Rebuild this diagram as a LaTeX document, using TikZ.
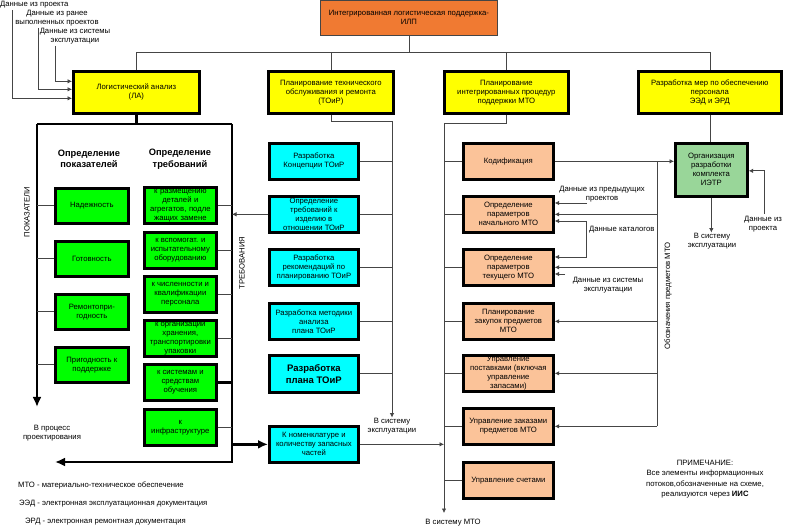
\documentclass[tikz,border=0pt]{standalone}
\usepackage{fontspec}
\setmainfont{Liberation Sans}
\usetikzlibrary{arrows.meta}
\definecolor{ilporange}{HTML}{F07A32}
\definecolor{lemon}{HTML}{FFFF00}
\definecolor{lime}{HTML}{00FF00}
\definecolor{aqua}{HTML}{00FFFF}
\definecolor{peach}{HTML}{FBC399}
\definecolor{mint}{HTML}{99D699}
\definecolor{wiregray}{HTML}{454545}

\begin{document}
\begin{tikzpicture}[x=1pt, y=-1pt,
  box/.style={draw=black, line width=2.7pt, align=center, anchor=north west,
    inner sep=1pt, font=\fontsize{7.7}{9}\selectfont},
  wire/.style={draw=wiregray, line width=0.7pt},
  feed/.style={wire, -{Latex[length=4.5pt,width=4.5pt]}},
  heavy/.style={line width=2.7pt},
  note/.style={align=center, inner sep=0pt, font=\fontsize{7.7}{9.6}\selectfont},
  head/.style={align=center, font=\bfseries\fontsize{9.3}{11.5}\selectfont}]

\useasboundingbox (0,0) rectangle (785,529);
\fill[white] (0,0) rectangle (785,529);

% Top: ILP and the four branches
\node[box, line width=0.7pt, draw=wiregray, fill=ilporange, minimum width=177pt, minimum height=35pt] (ilp) at (320,0) {Интегрированная логистическая поддержка-\\ИЛП};
\node[box, fill=lemon, minimum width=126pt, minimum height=42pt] (la) at (72,70) {Логистический анализ\\(ЛА)};
\node[box, fill=lemon, minimum width=125pt, minimum height=42pt] (toir) at (267,70) {Планирование технического\\обслуживания и ремонта\\(ТОиР)};
\node[box, fill=lemon, minimum width=124pt, minimum height=42pt] (mto) at (443,70) {Планирование\\интегрированных процедур\\поддержки МТО};
\node[box, fill=lemon, minimum width=143pt, minimum height=42pt] (pers) at (637,70) {Разработка мер по обеспечению\\персонала\\ЭЭД и ЭРД};
\coordinate (hub) at (408,52);
\draw[wire] (ilp.south) -- (ilp.south |- hub);
\draw[wire] (la.north |- hub) -- (pers.north |- hub);
\foreach \b in {la,toir,mto,pers}
  \draw[wire] (\b.north) -- (\b.north |- hub);

% Source data for LA
\node[note, anchor=west] (src1) at (0,5) {Данные из проекта};
\node[note] (src2) at (57,18) {Данные из ранее\\выполненных проектов};
\node[note] (src3) at (75,36) {Данные из системы\\эксплуатации};
\coordinate (s1) at (12,10);
\coordinate (s2) at (38,28);
\coordinate (s3) at (55,46);
\draw[feed] (s1) |- ([yshift=-6pt]la.west);
\draw[feed] (s2) |- ([yshift=3pt]la.west);
\draw[feed] (s3) |- ([yshift=11pt]la.west);

% LA frame
\coordinate (fTL) at (37,124);
\coordinate (fTR) at (232,124);
\coordinate (fBL) at (37,407);
\coordinate (fBR) at (232,462);
\draw[heavy] (la.south) -- (la.south |- fTL);
\draw[heavy] (fTL) -- (fTR);
\draw[heavy, -{Latex[length=10pt,width=9pt]}] (fTL) -- (fBL);
\draw[heavy, -{Latex[length=10pt,width=9pt]}] (fTR) -- (fBR) -- (55,462);
\node[head] (hpok) at (89,159) {Определение\\показателей};
\node[head] (htreb) at (180,159) {Определение\\требований};
\node[note, rotate=90] (lpok) at (27,212) {ПОКАЗАТЕЛИ};
\node[note, rotate=90] (ltreb) at (242,263) {ТРЕБОВАНИЯ};
\node[note] (proj) at (52,433) {В процесс\\проектирования};

% Indicators
\node[box, fill=lime, minimum width=73pt, minimum height=35pt] (nad) at (54,187) {Надежность};
\node[box, fill=lime, minimum width=73pt, minimum height=35pt] (got) at (54,240) {Готовность};
\node[box, fill=lime, minimum width=73pt, minimum height=35pt] (rem) at (54,293) {Ремонтопри-\\годность};
\node[box, fill=lime, minimum width=73pt, minimum height=35pt] (prig) at (54,346) {Пригодность к\\поддержке};
\foreach \b in {nad,got,rem,prig}
  \draw[wire] (\b.west) -- (fTL |- \b.west);

% Requirements
\node[box, fill=lime, minimum width=72pt, minimum height=36pt, text width=70pt] (r1) at (143,186) {к размещению\\деталей и\\агрегатов, подле\\жащих замене};
\node[box, fill=lime, minimum width=72pt, minimum height=36pt] (r2) at (143,231) {к вспомогат. и\\испытательному\\оборудованию};
\node[box, fill=lime, minimum width=72pt, minimum height=36pt] (r3) at (143,275) {к численности и\\квалификации\\персонала};
\node[box, fill=lime, minimum width=72pt, minimum height=36pt] (r4) at (143,319) {к организации\\хранения,\\транспортировки\\упаковки};
\node[box, fill=lime, minimum width=72pt, minimum height=36pt] (r5) at (143,363) {к системам и\\средствам\\обучения};
\node[box, fill=lime, minimum width=72pt, minimum height=36pt] (r6) at (143,408) {к\\инфраструктуре};
\foreach \b in {r1,r2,r3,r4,r6}
  \draw[wire] (\b.east) -- (fTR |- \b.east);
\draw[heavy] (r5.east) -- (fTR |- r5.east);

% TOiR column
\node[box, fill=aqua, minimum width=89pt, minimum height=36pt] (c1) at (268,142) {Разработка\\Концепции ТОиР};
\node[box, fill=aqua, minimum width=89pt, minimum height=36pt] (c2) at (268,195) {Определение\\требований к\\изделию в\\отношении ТОиР};
\node[box, fill=aqua, minimum width=89pt, minimum height=36pt] (c3) at (268,248) {Разработка\\рекомендаций по\\планированию ТОиР};
\node[box, fill=aqua, minimum width=89pt, minimum height=36pt] (c4) at (268,302) {Разработка методики\\анализа\\плана ТОиР};
\node[box, fill=aqua, minimum width=89pt, minimum height=37pt, font=\bfseries\fontsize{9.5}{11.5}\selectfont] (c5) at (268,354) {Разработка\\плана ТОиР};
\node[box, fill=aqua, minimum width=89pt, minimum height=36pt] (spare) at (268,425) {К номенклатуре и\\количеству запасных\\частей};
\coordinate (tbus) at (392,121);
\node[note] (tout) at (392,426) {В систему\\эксплуатации};
\draw[wire] (toir.south) |- (tbus);
\draw[feed] (tbus) -- (tbus |- tout.north);
\foreach \b in {c1,c2,c3,c4,c5}
  \draw[wire] (\b.east) -- (\b.east -| tbus);
\draw[feed] (c2.west) -- (fTR |- c2.west);
\draw[heavy, -{Latex[length=10pt,width=9pt]}] (fTR |- spare.west) -- (spare.west);

% MTO column
\node[box, fill=peach, minimum width=90pt, minimum height=36pt] (m1) at (462,142) {Кодификация};
\node[box, fill=peach, minimum width=90pt, minimum height=36pt] (m2) at (462,195) {Определение\\параметров\\начального МТО};
\node[box, fill=peach, minimum width=90pt, minimum height=36pt] (m3) at (462,248) {Определение\\параметров\\текущего МТО};
\node[box, fill=peach, minimum width=90pt, minimum height=36pt] (m4) at (462,302) {Планирование\\закупок предметов\\МТО};
\node[box, fill=peach, minimum width=90pt, minimum height=36pt] (m5) at (462,354) {Управление\\поставками (включая\\управление\\запасами)};
\node[box, fill=peach, minimum width=90pt, minimum height=36pt] (m6) at (462,407) {Управление заказами\\предметов МТО};
\node[box, fill=peach, minimum width=90pt, minimum height=36pt] (m7) at (462,461) {Управление счетами};
\coordinate (mbus) at (444,123);
\node[note] (mout) at (453,523) {В систему МТО};
\draw[wire] (mto.south) |- (mbus);
\draw[feed] (mbus) -- (mbus |- 0,513);
\foreach \b in {m1,m2,m3,m4,m5,m6,m7}
  \draw[wire] (\b.west) -- (\b.west -| mbus);
\draw[feed] (spare.east) -- (spare.east -| mbus);

% Item designations bus
\coordinate (obus) at (657,0);
\draw[wire] (m1.east -| obus) -- (m6.east -| obus);
\foreach \b in {m2,m3,m4,m5,m6}
  \draw[feed] (\b.east -| obus) -- (\b.east);
\node[note, rotate=90] (lobus) at (668,296) {Обозначения предметов МТО};

% Extra data for MTO
\node[note] (tprev) at (602,194) {Данные из  предыдущих\\проектов};
\coordinate (prev) at (587,203);
\draw[feed] (prev) -- (prev -| m2.east);
\coordinate (cat) at (586,221);
\coordinate (catB) at (586,257);
\draw[feed] (cat) -- (cat -| m2.east);
\draw[feed] (cat) -- (catB) -- (catB -| m3.east);
\node[note, anchor=west] (tcat) at (589,230) {Данные каталогов};
\coordinate (ops) at (565,274);
\draw[feed] (ops) -- (ops -| m3.east);
\node[note] (tops) at (608,285) {Данные из системы\\эксплуатации};

% IETR
\node[box, fill=mint, minimum width=72pt, minimum height=53pt] (ietr) at (674,142) {Организация\\разработки\\комплекта\\ИЭТР};
\draw[wire] (pers.south) -- (pers.south |- ietr.north);
\draw[feed] (m1.east) -- (m1.east -| ietr.west);
\node[note] (iout) at (712,241) {В систему\\эксплуатации};
\draw[feed] (ietr.south) -- (ietr.south |- iout.north);
\node[note] (tiin) at (763,224) {Данные из\\проекта};
\coordinate (iin) at (764,214);
\draw[feed] (iin) |- ([yshift=-1pt]ietr.east);

% Legend and note
\node[note, anchor=west] (leg1) at (18,485) {МТО - материально-техническое обеспечение};
\node[note, anchor=west] (leg2) at (19,504) {ЭЭД - электронная эксплуатационная документация};
\node[note, anchor=west] (leg3) at (25,522) {ЭРД - электронная ремонтная документация};
\node[note, font=\fontsize{7.7}{10.4}\selectfont] (remark) at (705,479) {ПРИМЕЧАНИЕ:\\Все элементы информационных\\потоков,обозначенные на схеме,\\реализуются через \textbf{ИИС}};

\end{tikzpicture}
\end{document}
